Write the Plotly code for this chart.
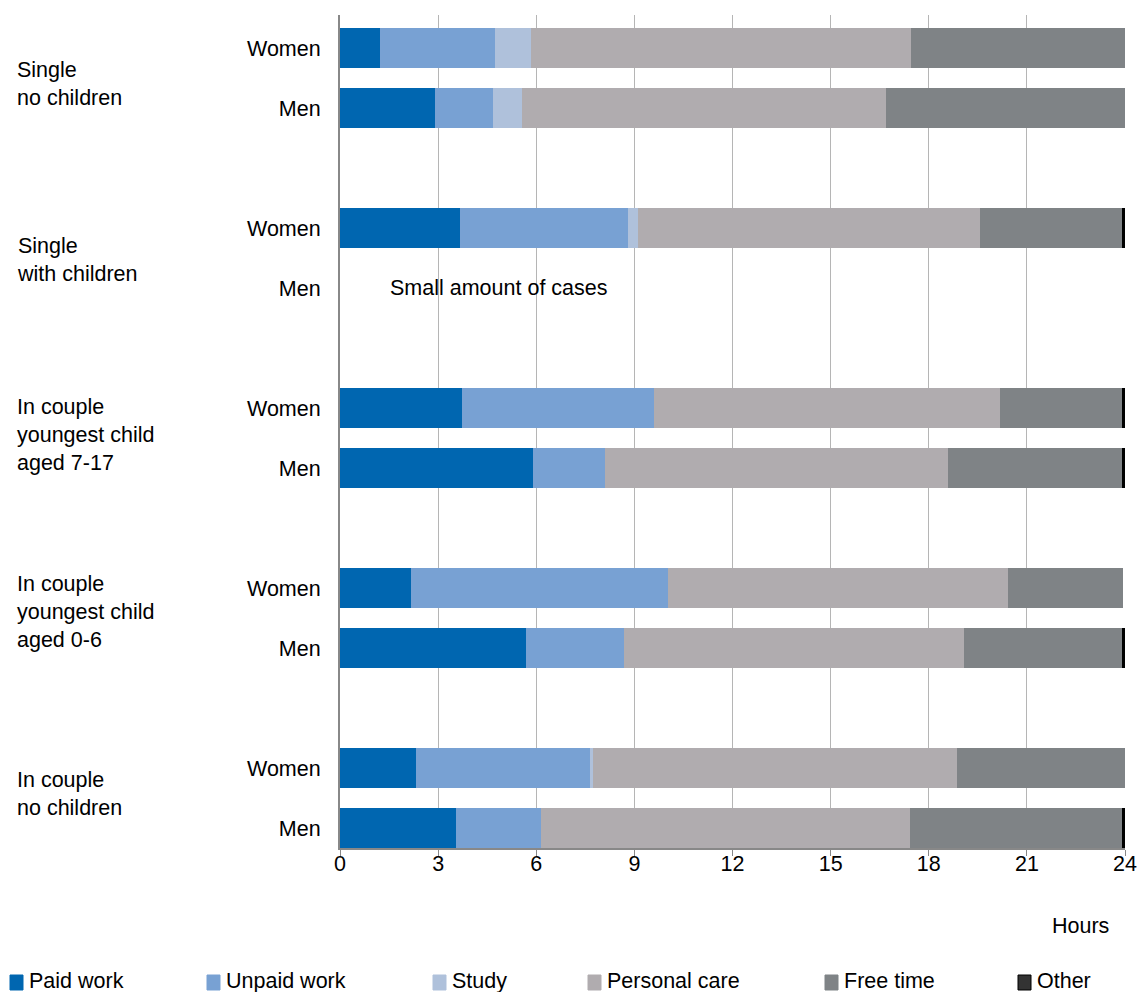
import plotly.graph_objects as go

# ---- data (top to bottom) ----
group_labels = ["Single<br>no children", "Single<br>with children",
                "In couple<br>youngest child<br>aged 7-17",
                "In couple<br>youngest child<br>aged 0-6",
                "In couple<br>no children"]
sex_labels = ["Women", "Men"]

paid_work     = [1.21, 2.89, 3.66, None, 3.72, 5.89, 2.16, 5.68, 2.31, 3.54]
unpaid_work   = [3.52, 1.78, 5.16, None, 5.88, 2.21, 7.86, 3.00, 5.36, 2.60]
study         = [1.10, 0.89, 0.29, None, 0.00, 0.00, 0.00, 0.00, 0.06, 0.00]
personal_care = [11.62, 11.14, 10.46, None, 10.59, 10.49, 10.41, 10.40, 11.14, 11.29]
free_time     = [6.55, 7.30, 4.34, None, 3.72, 5.32, 3.50, 4.83, 5.13, 6.48]
other         = [0.00, 0.00, 0.09, None, 0.09, 0.09, 0.00, 0.09, 0.00, 0.09]

series_names = ["Paid work", "Unpaid work", "Study", "Personal care", "Free time", "Other"]
series_vals = [paid_work, unpaid_work, study, personal_care, free_time, other]
colors = ["#0066B0", "#78A1D3", "#AFC1DB", "#B0ACAF", "#7F8386", "#000000"]

x_ticks = [0, 3, 6, 9, 12, 15, 18, 21, 24]

FONT = "Liberation Sans, Arial, sans-serif"
FS = 21.5

W, H = 1137, 992
PL, PR, PT, PB = 340, 1125, 15, 848  # plot area in figure px
PW, PH = PR - PL, PB - PT

def px2paper_x(px):
    return (px - PL) / PW

def px2paper_y(py):
    return (PB - py) / PH

# y positions: each group uses 3 slots (Women, Men, gap)
n_groups = len(group_labels)
top = 3 * n_groups - 2
ypos = []
for g in range(n_groups):
    ypos.append(top - 3 * g)       # Women
    ypos.append(top - 3 * g - 1)   # Men
ylabels = sex_labels * n_groups

fig = go.Figure()
for name, vals, col in zip(series_names, series_vals, colors):
    fig.add_trace(go.Bar(
        x=vals, y=ypos, orientation="h", name=name,
        marker=dict(color=col, line=dict(width=0)),
        width=0.667, showlegend=False, hoverinfo="x+name"))

fig.update_layout(
    barmode="stack",
    width=W, height=H,
    margin=dict(l=PL, r=W - PR, t=PT, b=H - PB, pad=0, autoexpand=False),
    plot_bgcolor="white", paper_bgcolor="white",
    font=dict(family=FONT, size=FS, color="#000000"),
    bargap=0,
)
fig.update_xaxes(
    range=[0, 24], tickvals=x_ticks, ticktext=[str(t) for t in x_ticks],
    showgrid=True, gridcolor="#b5b5b5", gridwidth=1,
    showline=True, linecolor="#888888", linewidth=2,
    ticks="outside", ticklen=6, tickcolor="#888888",
    ticklabelstandoff=-11, automargin=False,
    zeroline=False, tickfont=dict(size=FS),
)
fig.update_yaxes(
    range=[-0.333, top + 0.558], tickvals=ypos, ticktext=ylabels,
    showgrid=False, zeroline=False, automargin=False,
    showline=True, linecolor="#888888", linewidth=2,
    ticks="", ticklabelstandoff=13, tickfont=dict(size=FS),
)

# group labels (small per-group vertical nudges to follow the reference)
label_nudge = [-0.1, -0.02, 0.05, 0.1, 0.06]
for g, lab in enumerate(group_labels):
    yc = top - 3 * g - 0.5 + label_nudge[g]
    fig.add_annotation(text=lab, xref="paper", yref="y", x=px2paper_x(15), y=yc,
                       xanchor="left", yanchor="middle", align="left",
                       showarrow=False, font=dict(size=FS))

# note for missing bar
fig.add_annotation(text="Small amount of cases", xref="x", yref="y",
                   x=1.47, y=top - 4, xanchor="left", yanchor="middle",
                   showarrow=False, font=dict(size=FS))

# axis title
fig.add_annotation(text="Hours", xref="paper", yref="paper",
                   x=px2paper_x(1080), y=px2paper_y(926),
                   xanchor="center", yanchor="middle", showarrow=False,
                   font=dict(size=FS))

# manual legend
leg_sq_x = [10, 207, 433, 588, 825, 1018]
leg_cols = ["#0066B0", "#78A1D3", "#AFC1DB", "#B0ACAF", "#7F8386", "#333333"]
for name, px, col in zip(series_names, leg_sq_x, leg_cols):
    fig.add_shape(type="rect", xref="paper", yref="paper",
                  x0=px2paper_x(px), x1=px2paper_x(px + 13),
                  y0=px2paper_y(990), y1=px2paper_y(975),
                  fillcolor=col, line=dict(color="#000000" if name == "Other" else col, width=1))
    fig.add_annotation(text=name, xref="paper", yref="paper",
                       x=px2paper_x(px + 17), y=px2paper_y(981),
                       xanchor="left", yanchor="middle", showarrow=False,
                       font=dict(size=FS))

fig.write_html("out.html", config={"displayModeBar": False},
               post_script="document.body.style.margin='0';document.body.style.overflow='hidden';")
